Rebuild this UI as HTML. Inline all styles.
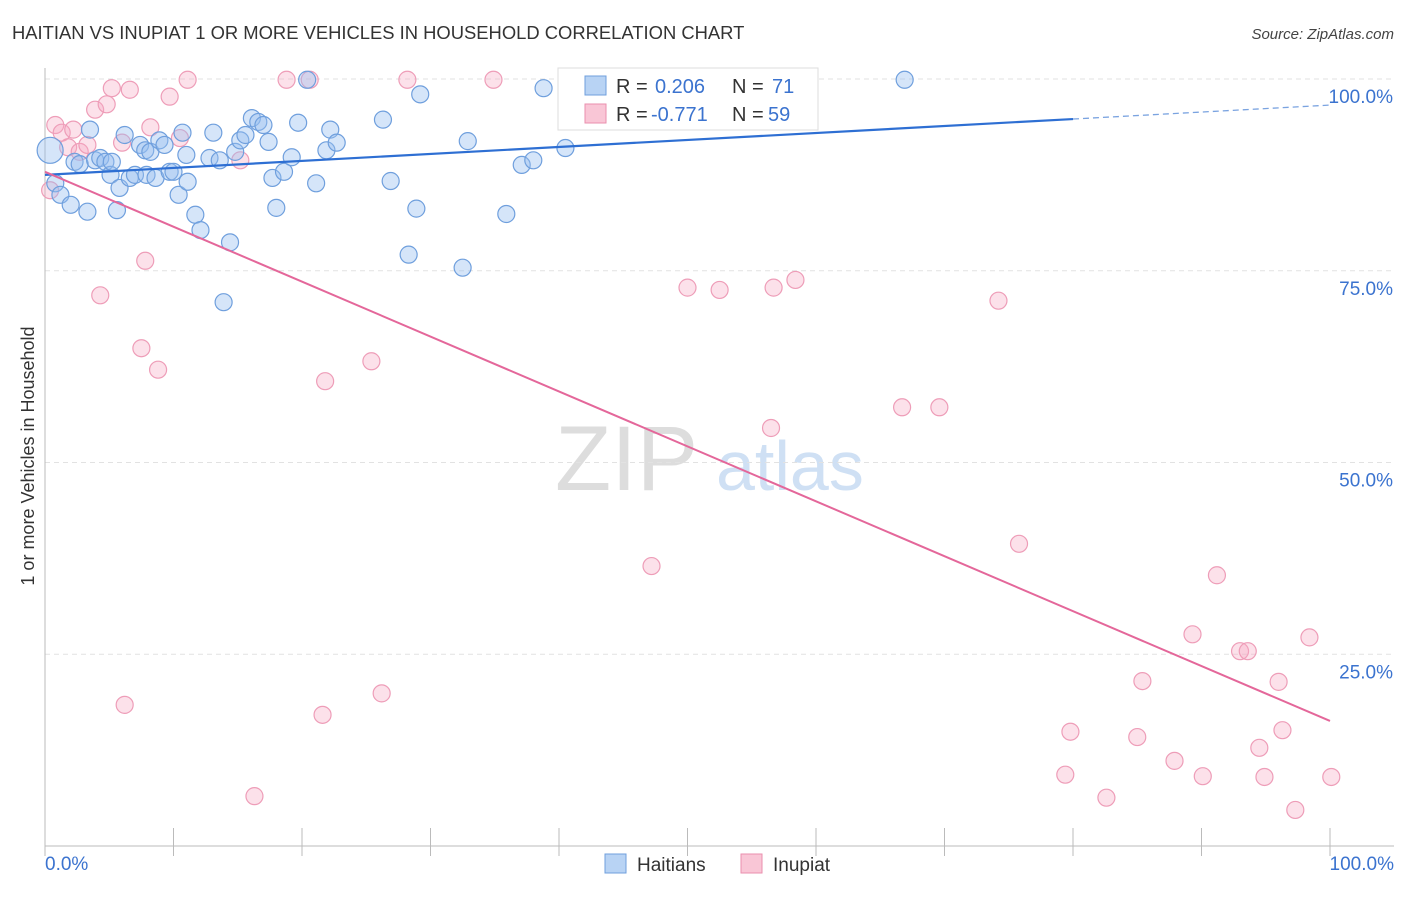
<!DOCTYPE html>
<html><head><meta charset="utf-8"><style>
body{margin:0;background:#fff;font-family:"Liberation Sans",sans-serif}
svg text{font-family:"Liberation Sans",sans-serif}
</style></head><body>
<svg id="chart" width="1406" height="892" xmlns="http://www.w3.org/2000/svg">
<text x="12" y="39" font-size="18.4" fill="#333">HAITIAN VS INUPIAT 1 OR MORE VEHICLES IN HOUSEHOLD CORRELATION CHART</text>
<text x="1394" y="39" font-size="15" fill="#444" text-anchor="end" font-style="italic">Source: ZipAtlas.com</text>
<g><text x="555" y="490" font-size="92" fill="#ddd" font-family="Liberation Serif">ZIP</text><text x="716" y="490" font-size="70" fill="#cfe0f4">atlas</text></g>
<g id="grid"></g><g id="axes"></g><g id="pts"></g><g id="trend"></g>
<g>
<rect x="558" y="68" width="260" height="62" fill="#fff" stroke="#ddd"/>
<rect x="585" y="76" width="21" height="19" fill="#b8d3f4" stroke="#6f9fdd"/>
<text x="616" y="93" font-size="20" fill="#333">R =</text>
<text x="655" y="93" font-size="20" fill="#3b73cf">0.206</text>
<text x="732" y="93" font-size="20" fill="#333">N =</text>
<text x="772" y="93" font-size="20" fill="#3b73cf">71</text>
<rect x="585" y="104" width="21" height="19" fill="#f9c6d6" stroke="#ea8fae"/>
<text x="616" y="121" font-size="20" fill="#333">R =</text>
<text x="651" y="121" font-size="20" fill="#3b73cf">-0.771</text>
<text x="732" y="121" font-size="20" fill="#333">N =</text>
<text x="768" y="121" font-size="20" fill="#3b73cf">59</text>
</g>
<g>
<rect x="605" y="854" width="21" height="19" fill="#b8d3f4" stroke="#6f9fdd"/>
<text x="637" y="871" font-size="19" fill="#333">Haitians</text>
<rect x="741" y="854" width="21" height="19" fill="#f9c6d6" stroke="#ea8fae"/>
<text x="773" y="871" font-size="19" fill="#333">Inupiat</text>
</g>
</svg>
<script>
const blueX=[0.4,0.8,1.2,2.0,3.3,3.5,2.3,2.7,3.9,4.3,4.7,5.1,5.2,5.6,5.8,6.2,6.6,7.0,7.4,7.8,8.2,7.9,8.6,8.9,9.3,9.7,10.0,10.4,10.7,11.0,11.1,11.7,12.1,12.8,13.1,13.6,14.4,13.9,14.8,15.2,15.6,16.1,16.6,17.0,17.4,17.7,18.0,18.6,19.2,19.7,20.4,21.1,21.9,22.2,22.7,26.3,26.9,28.3,28.9,29.2,32.5,32.9,35.9,37.1,38.0,38.8,40.5,66.9];
const blueY=[90.7,86.4,84.9,83.6,82.7,93.4,89.2,88.9,89.4,89.7,89.2,87.5,89.2,82.9,85.8,92.7,87.1,87.5,91.4,90.7,90.5,87.5,87.1,92.0,91.4,87.9,87.9,84.9,93.0,90.1,86.6,82.3,80.3,89.7,93.0,89.4,78.7,70.9,90.5,92.0,92.7,94.9,94.4,94.0,91.8,87.1,83.2,87.9,89.8,94.3,99.9,86.4,90.7,93.4,91.7,94.7,86.7,77.1,83.1,98.0,75.4,91.9,82.4,88.8,89.4,98.8,91.0,99.9];
const pinkX=[0.4,0.8,1.3,1.8,2.2,2.7,3.3,3.9,4.3,4.8,5.2,6.0,6.2,6.6,7.5,7.8,8.2,8.8,9.7,10.5,11.1,15.2,16.3,18.8,20.6,21.6,21.8,25.4,26.2,28.2,34.9,47.2,50.0,52.5,56.5,56.7,58.4,66.7,69.6,74.2,75.8,79.4,79.8,82.6,85.0,85.4,87.9,89.3,90.1,91.2,93.0,93.6,94.5,94.9,96.0,96.3,98.4,97.3,100.1];
const pinkY=[85.5,94.0,93.0,91.1,93.4,90.5,91.4,96.0,71.8,96.7,98.8,91.7,18.4,98.6,64.9,76.3,93.7,62.1,97.7,92.3,99.9,89.4,6.5,99.9,99.9,17.1,60.6,63.2,19.9,99.9,99.9,36.5,72.8,72.5,54.5,72.8,73.8,57.2,57.2,71.1,39.4,9.3,14.9,6.3,14.2,21.5,11.1,27.6,9.1,35.3,25.4,25.4,12.8,9.0,21.4,15.1,27.2,4.7,9.0];
const yTicks=[25,50,75,100];
const xTicks=[0,10,20,30,40,50,60,70,80,90,100];
const blueTrend=[87.5,96.6];
const pinkTrend=[87.9,16.3];
const NS="http://www.w3.org/2000/svg";
const X=v=>45+v*12.85, Y=v=>846-v*7.67;
function mk(t,a,p){const e=document.createElementNS(NS,t);for(const k in a)e.setAttribute(k,a[k]);p.appendChild(e);return e;}
const grid=document.getElementById('grid'),axes=document.getElementById('axes');
yTicks.forEach(t=>{const l=mk('line',{x1:45,x2:1394,y1:Y(t),y2:Y(t),stroke:'#e2e2e2','stroke-dasharray':'5,4'},grid);


const tx=mk('text',{x:1393,y:Y(t)+24,'font-size':19,fill:'#3b73cf','text-anchor':'end'},axes);tx.textContent=t.toFixed(1)+'%';

});
mk('line',{x1:45,x2:45,y1:68,y2:846,stroke:'#bbb'},axes);
mk('line',{x1:45,x2:1394,y1:846,y2:846,stroke:'#bbb'},axes);
xTicks.forEach(t=>{const l=mk('line',{x1:X(t),x2:X(t),y1:828,y2:856,stroke:'#bbb'},axes);

});
[[0,'0.0%','start',45],[100,'100.0%','end',1394]].forEach(a=>{const tx=mk('text',{x:a[3],y:870,'font-size':19,fill:'#3b73cf','text-anchor':a[2]},axes);tx.textContent=a[1];

});
const yt=mk('text',{x:0,y:0,'font-size':18,fill:'#333','text-anchor':'middle',transform:'translate(34,456) rotate(-90)'},axes);yt.textContent='1 or more Vehicles in Household';


const pts=document.getElementById('pts');
pinkX.forEach((x,i)=>{const c=mk('circle',{cx:X(x),cy:Y(pinkY[i]),r:8.5,fill:'rgba(246,170,195,0.35)',stroke:'#ee9db8','stroke-width':1.2},pts);

});
blueX.forEach((x,i)=>{const c=mk('circle',{cx:X(x),cy:Y(blueY[i]),r:i==0?13:8.5,fill:'rgba(150,190,240,0.4)',stroke:'#6f9fdd','stroke-width':1.2},pts);

});
const tr=document.getElementById('trend');
const bAt=v=>blueTrend[0]+(blueTrend[1]-blueTrend[0])*v/100;
let l=mk('line',{x1:X(0),y1:Y(bAt(0)),x2:X(80),y2:Y(bAt(80)),stroke:'#2e6fd3','stroke-width':2.2},tr);


l=mk('line',{x1:X(80),y1:Y(bAt(80)),x2:X(100),y2:Y(bAt(100)),stroke:'#7aa3e0','stroke-width':1.3,'stroke-dasharray':'6,4'},tr);


l=mk('line',{x1:X(0),y1:Y(pinkTrend[0]),x2:X(100),y2:Y(pinkTrend[1]),stroke:'#e4679a','stroke-width':2},tr);


</script>
</body></html>
